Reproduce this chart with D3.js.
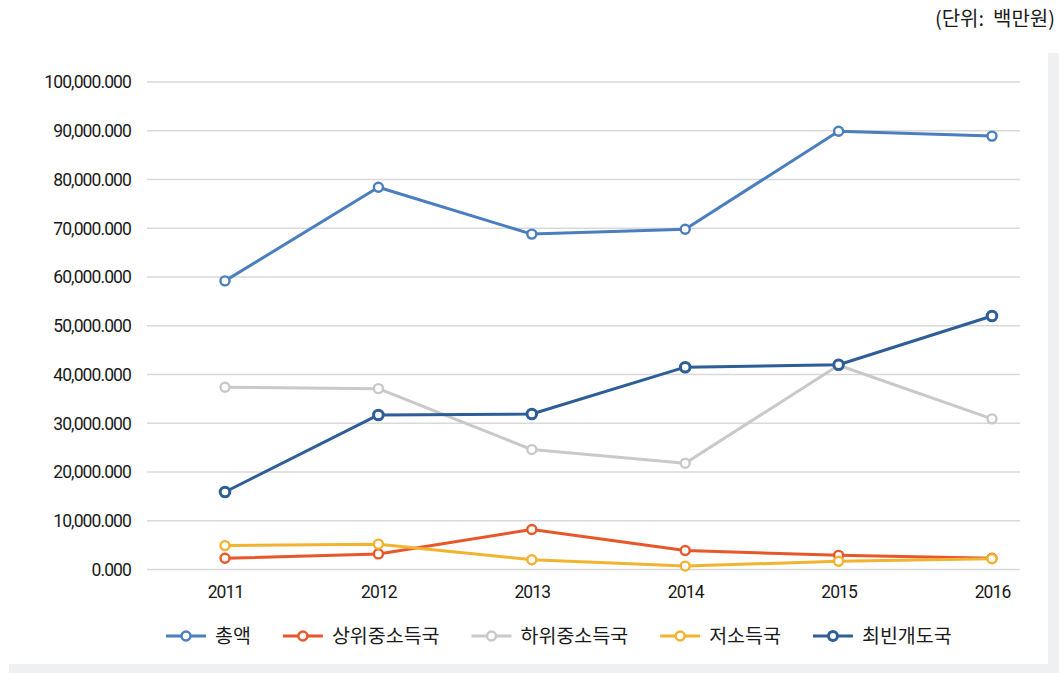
<!DOCTYPE html>
<html>
<head>
<meta charset="utf-8">
<script src="https://cdn.jsdelivr.net/npm/d3@7"></script>
<style>
  html, body { margin: 0; padding: 0; background: #fff; }
  svg { display: block; }
</style>
</head>
<body>
<div id="chart"></div>
<script>
// years on the x axis
const years = ["2011", "2012", "2013", "2014", "2015", "2016"];

// values in 백만원
const total = [59200000, 78400000, 68800000, 69800000, 89900000, 88900000];
const upperMiddle = [2300000, 3200000, 8200000, 3900000, 2900000, 2300000];
const lowerMiddle = [37400000, 37100000, 24600000, 21800000, 41900000, 30900000];
const lowIncome = [4900000, 5200000, 2000000, 700000, 1700000, 2200000];
const leastDeveloped = [15900000, 31700000, 31900000, 41500000, 42000000, 52000000];

const seriesNames = ["총액", "상위중소득국", "하위중소득국", "저소득국", "최빈개도국"];
const yTicks = [0, 10000000, 20000000, 30000000, 40000000, 50000000,
  60000000, 70000000, 80000000, 90000000, 100000000];
const unitLabel = "(단위:  백만원)";

const colors = ["#4a7ebf", "#e8572a", "#c9c9c9", "#f1b330", "#2e5e97"];

const width = 1059;
const height = 673;
const margin = { top: 82, bottom: 569.5, left: 147, right: 1020 };

const series = [total, upperMiddle, lowerMiddle, lowIncome, leastDeveloped].map((values, i) => ({
  name: seriesNames[i],
  color: colors[i],
  data: values.map((v, j) => ({ year: years[j], value: v })),
}));

const svg = d3
  .select("#chart")
  .append("svg")
  .attr("width", width)
  .attr("height", height);

// light grey frame on right and bottom
svg.append("rect")
  .attr("x", 1048).attr("y", 53)
  .attr("width", width - 1048).attr("height", height - 53)
  .attr("fill", "#eff0f2");
svg.append("rect")
  .attr("x", 9).attr("y", 664)
  .attr("width", width - 9).attr("height", height - 664)
  .attr("fill", "#eff0f2");

const x = d3.scalePoint().domain(years).range([225, 992]);
const y = d3.scaleLinear().domain([0, 100000000]).range([margin.bottom, margin.top]);

const fmt = (d) => d3.format(",")(d / 1000) + ".000";

// gridlines + y labels
const yAxis = svg.append("g").attr("class", "y-axis");
yAxis.selectAll("line")
  .data(yTicks)
  .enter()
  .append("line")
  .attr("x1", margin.left)
  .attr("x2", margin.right)
  .attr("y1", (d) => y(d))
  .attr("y2", (d) => y(d))
  .attr("stroke", "#d9d9d9")
  .attr("stroke-width", 1.5);

yAxis.selectAll("text")
  .data(yTicks)
  .enter()
  .append("text")
  .attr("x", 131)
  .attr("y", (d) => y(d))
  .attr("dy", "0.36em")
  .attr("text-anchor", "end")
  .style("font-family", "Roboto, sans-serif")
  .style("font-size", "17.5px")
  .style("letter-spacing", "-0.9px")
  .style("fill", "#1a1a1a")
  .text((d) => fmt(d));

// x labels
const xAxis = d3.axisBottom(x).tickSize(0).tickPadding(0);
const xg = svg.append("g")
  .attr("transform", `translate(0, 586)`)
  .call(xAxis);
xg.select(".domain").remove();
xg.selectAll("text")
  .attr("dy", "0.71em")
  .style("font-family", "Roboto, sans-serif")
  .style("font-size", "17.5px")
  .style("letter-spacing", "-0.9px")
  .style("fill", "#1a1a1a");

// lines
const line = d3.line().x((d) => x(d.year)).y((d) => y(d.value));

series.forEach((s, i) => {
  const g = svg.append("g").attr("class", "series");
  g.append("path")
    .datum(s.data)
    .attr("d", line)
    .attr("fill", "none")
    .attr("stroke", s.color)
    .attr("stroke-width", 3)
    .attr("stroke-linejoin", "round");
  g.selectAll("circle")
    .data(s.data)
    .enter()
    .append("circle")
    .attr("cx", (d) => x(d.year))
    .attr("cy", (d) => y(d.value))
    .attr("r", i === 4 ? 4.8 : 4.5)
    .attr("fill", "#fff")
    .attr("stroke", s.color)
    .attr("stroke-width", i === 4 ? 3 : 2.4);
});

// legend
const legend = svg.append("g").attr("transform", "translate(0, 636)");
let lx = 166;
series.forEach((s, i) => {
  const item = legend.append("g").attr("transform", `translate(${lx}, 0)`);
  item.append("line")
    .attr("x1", 0).attr("x2", 40)
    .attr("stroke", s.color)
    .attr("stroke-width", 3);
  item.append("circle")
    .attr("cx", 20).attr("r", 4.5)
    .attr("fill", "#fff")
    .attr("stroke", s.color)
    .attr("stroke-width", i === 4 ? 3 : 2.4);
  const t = item.append("text")
    .attr("x", 49)
    .attr("dy", "0.36em")
    .style("font-family", "'Noto Sans CJK KR', sans-serif")
    .style("font-size", "19.5px")
    .style("fill", "#1a1a1a")
    .text(s.name);
  lx += 49 + t.node().getComputedTextLength() + 32;
});

// unit label
svg.append("text")
  .attr("x", 1055)
  .attr("y", 19)
  .attr("dy", "0.36em")
  .attr("text-anchor", "end")
  .style("font-family", "'Noto Sans CJK KR', sans-serif")
  .style("font-size", "20px")
  .style("white-space", "pre")
  .style("fill", "#1a1a1a")
  .text(unitLabel);
</script>
</body>
</html>
